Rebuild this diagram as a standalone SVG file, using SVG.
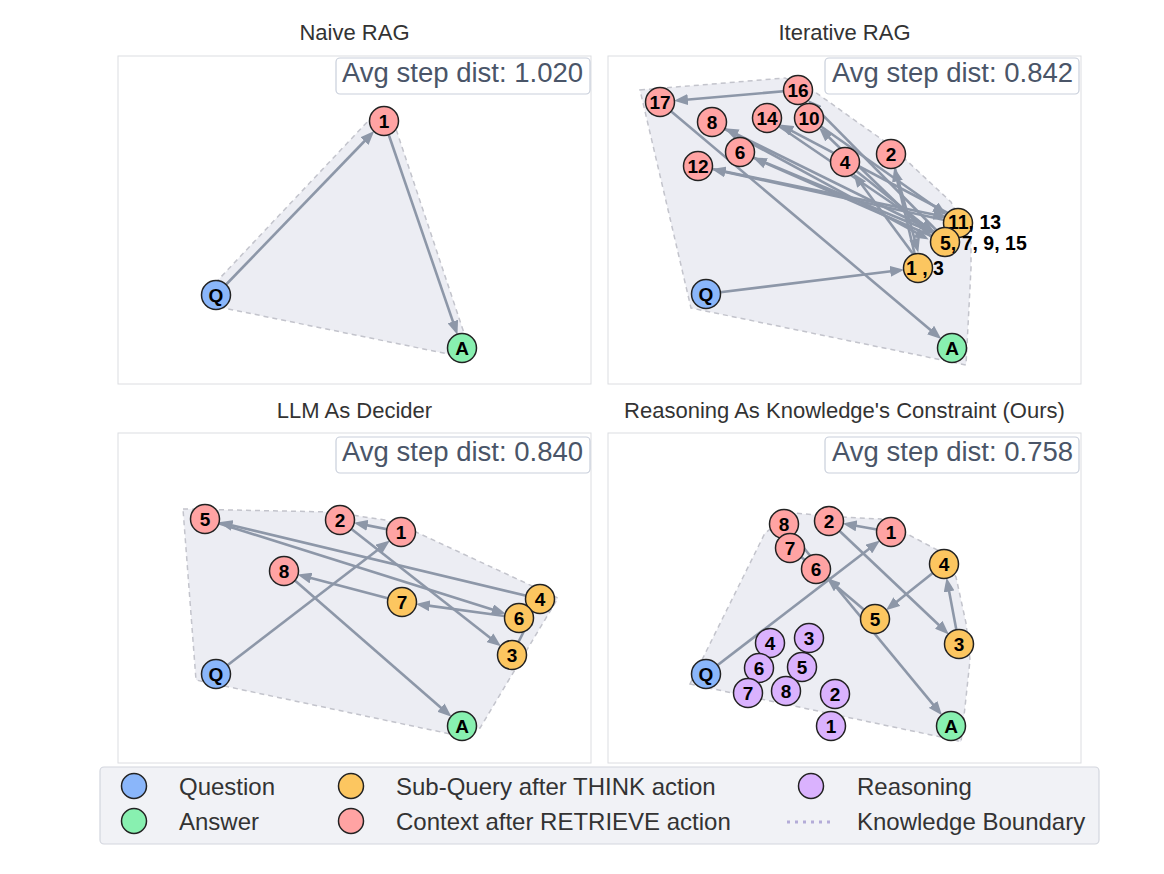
<svg xmlns="http://www.w3.org/2000/svg" width="1164" height="874" viewBox="0 0 1164 874">
<defs>
<marker id="ah" markerUnits="userSpaceOnUse" markerWidth="14" markerHeight="11" refX="5" refY="5.5" orient="auto"><path d="M0,0 L14,5.5 L0,11 z" fill="#8d97a8"/></marker>
</defs>
<style>
.frame{fill:#fff;stroke:#dcdde1;stroke-width:1}
.title{font-family:"Liberation Sans",Arial,sans-serif;font-size:22px;fill:#333;text-anchor:middle}
.badge rect{fill:#fff;stroke:#c9cfdb;stroke-width:1.2}
.badge text{font-family:"Liberation Sans",Arial,sans-serif;font-size:27.5px;fill:#4a5568}
.hull{fill:#ecedf3;stroke:#c3c4cc;stroke-width:1.5;stroke-dasharray:5 4}
.edge{stroke:#8d97a8;stroke-width:2.6;fill:none;marker-end:url(#ah)}
.link{stroke:#8d97a8;stroke-width:2.6;fill:none}
.node circle{stroke:#222;stroke-width:1.5}
.q circle{fill:#8ab6fa}
.a circle{fill:#88f0b0}
.s circle{fill:#fcc660}
.c circle{fill:#ffa3a3}
.r circle{fill:#dab2fe}
.node text{font-family:"Liberation Sans",Arial,sans-serif;font-weight:bold;font-size:19px;fill:#000;text-anchor:middle}
.node text.multi{text-anchor:start;font-size:19.5px}
.lg text{font-family:"Liberation Sans",Arial,sans-serif;font-size:24px;fill:#333}
.lg circle{stroke:#222;stroke-width:1.5}
</style>
<rect x="0" y="0" width="1164" height="874" fill="#fff"/>

<!-- ============ Panel 1: Naive RAG ============ -->
<g id="panel-naive">
<rect class="frame" x="118" y="56" width="473" height="328"/>
<text class="title" x="354.5" y="40">Naive RAG</text>
<polygon class="hull" points="203,296 370,119 392,117 465,336 458,356 214,306"/>
<g class="badge"><rect x="336" y="58" width="254" height="36" rx="4"/><text x="342" y="82">Avg step dist: 1.020</text></g>
</g>
<g id="connectors-naive">
<line class="edge" x1="216" y1="295" x2="368" y2="137.5"/>
<line class="edge" x1="384" y1="121" x2="454.5" y2="326.2"/>
</g>
<g id="naive-Q" class="node q"><circle cx="216" cy="295" r="14.5"/><text x="216" y="302">Q</text></g>
<g id="naive-1" class="node c"><circle cx="384" cy="121" r="14.5"/><text x="384" y="128">1</text></g>
<g id="naive-A" class="node a"><circle cx="462" cy="348" r="14.5"/><text x="462" y="355">A</text></g>

<!-- ============ Panel 2: Iterative RAG ============ -->
<g id="panel-iterative">
<rect class="frame" x="608" y="56" width="473" height="328"/>
<text class="title" x="844.5" y="40">Iterative RAG</text>
<polygon class="hull" points="640,90 785,78 815,92 891,146 951,202 971,242 971,268 966,365 691,308"/>
<g class="badge"><rect x="825" y="58" width="254" height="36" rx="4"/><text x="832" y="82">Avg step dist: 0.842</text></g>
</g>
<g id="connectors-iterative">
<line class="edge" x1="706" y1="294" x2="895.2" y2="270.8"/>
<line class="edge" x1="918" y1="268" x2="896.3" y2="176.4"/>
<line class="edge" x1="891" y1="154" x2="915.9" y2="243.8"/>
<line class="edge" x1="922" y1="266" x2="858.7" y2="180.5"/>
<line class="edge" x1="845" y1="162" x2="927" y2="227.6"/>
<line class="edge" x1="945" y1="242" x2="761.1" y2="161.2"/>
<line class="edge" x1="740" y1="152" x2="927.8" y2="230.2"/>
<line class="edge" x1="949" y1="239" x2="732.6" y2="132.2"/>
<line class="edge" x1="712" y1="122" x2="920.8" y2="235.1"/>
<line class="edge" x1="941" y1="246" x2="825.5" y2="134"/>
<line class="edge" x1="809" y1="118" x2="939.2" y2="209.8"/>
<line class="edge" x1="958" y1="223" x2="720.5" y2="170.9"/>
<line class="edge" x1="698" y1="166" x2="938.5" y2="215.4"/>
<line class="edge" x1="961" y1="220" x2="787.4" y2="128.7"/>
<line class="edge" x1="767" y1="118" x2="927" y2="227"/>
<line class="edge" x1="946" y1="240" x2="814.2" y2="106.4"/>
<line class="edge" x1="798" y1="90" x2="682.9" y2="100"/>
<line class="edge" x1="660" y1="102" x2="934.4" y2="333.2"/>
</g>
<g id="iter-17" class="node c"><circle cx="660" cy="102" r="14.5"/><text x="660" y="109">17</text></g>
<g id="iter-16" class="node c"><circle cx="798" cy="90" r="14.5"/><text x="798" y="97">16</text></g>
<g id="iter-8" class="node c"><circle cx="712" cy="122" r="14.5"/><text x="712" y="129">8</text></g>
<g id="iter-14" class="node c"><circle cx="767" cy="118" r="14.5"/><text x="767" y="125">14</text></g>
<g id="iter-10" class="node c"><circle cx="809" cy="118" r="14.5"/><text x="809" y="125">10</text></g>
<g id="iter-6" class="node c"><circle cx="740" cy="152" r="14.5"/><text x="740" y="159">6</text></g>
<g id="iter-12" class="node c"><circle cx="698" cy="166" r="14.5"/><text x="698" y="173">12</text></g>
<g id="iter-4" class="node c"><circle cx="845" cy="162" r="14.5"/><text x="845" y="169">4</text></g>
<g id="iter-2" class="node c"><circle cx="891" cy="154" r="14.5"/><text x="891" y="161">2</text></g>
<g id="iter-11" class="node s"><circle cx="958" cy="223" r="14.5"/><text class="multi" x="948" y="229">11, 13</text></g>
<g id="iter-5" class="node s"><circle cx="945" cy="242" r="14.5"/><text class="multi" x="940" y="250">5, 7, 9, 15</text></g>
<g id="iter-1" class="node s"><circle cx="918" cy="268" r="14.5"/><text class="multi" x="906" y="275">1 , 3</text></g>
<g id="iter-Q" class="node q"><circle cx="706" cy="294" r="14.5"/><text x="706" y="301">Q</text></g>
<g id="iter-A" class="node a"><circle cx="952" cy="348" r="14.5"/><text x="952" y="355">A</text></g>

<!-- ============ Panel 3: LLM As Decider ============ -->
<g id="panel-decider">
<rect class="frame" x="118" y="433" width="473" height="330"/>
<text class="title" x="354.5" y="418">LLM As Decider</text>
<polygon class="hull" points="183,509 331,512 385,520 416,532 558,598 480,728 455,735 196,680"/>
<g class="badge"><rect x="336" y="437" width="254" height="36" rx="4"/><text x="342" y="461">Avg step dist: 0.840</text></g>
</g>
<g id="connectors-decider">
<line class="edge" x1="216" y1="674" x2="382.8" y2="546"/>
<line class="edge" x1="401" y1="532" x2="362.6" y2="524.4"/>
<line class="edge" x1="340" y1="520" x2="493.9" y2="640.8"/>
<line class="edge" x1="512" y1="655" x2="529.7" y2="619.6"/>
<line class="edge" x1="540" y1="599" x2="227.4" y2="524.3"/>
<line class="edge" x1="205" y1="519" x2="497.1" y2="611.1"/>
<line class="edge" x1="519" y1="618" x2="424.8" y2="605.1"/>
<line class="edge" x1="402" y1="602" x2="306.2" y2="576.8"/>
<line class="edge" x1="284" y1="571" x2="444.7" y2="710.9"/>
</g>
<g id="dec-5" class="node c"><circle cx="205" cy="519" r="14.5"/><text x="205" y="526">5</text></g>
<g id="dec-2" class="node c"><circle cx="340" cy="520" r="14.5"/><text x="340" y="527">2</text></g>
<g id="dec-1" class="node c"><circle cx="401" cy="532" r="14.5"/><text x="401" y="539">1</text></g>
<g id="dec-8" class="node c"><circle cx="284" cy="571" r="14.5"/><text x="284" y="578">8</text></g>
<g id="dec-7" class="node s"><circle cx="402" cy="602" r="14.5"/><text x="402" y="609">7</text></g>
<g id="dec-4" class="node s"><circle cx="540" cy="599" r="14.5"/><text x="540" y="606">4</text></g>
<g id="dec-6" class="node s"><circle cx="519" cy="618" r="14.5"/><text x="519" y="625">6</text></g>
<g id="dec-3" class="node s"><circle cx="512" cy="655" r="14.5"/><text x="512" y="662">3</text></g>
<g id="dec-Q" class="node q"><circle cx="216" cy="674" r="14.5"/><text x="216" y="681">Q</text></g>
<g id="dec-A" class="node a"><circle cx="462" cy="726" r="14.5"/><text x="462" y="733">A</text></g>

<!-- ============ Panel 4: Reasoning As Knowledge's Constraint ============ -->
<g id="panel-ours">
<rect class="frame" x="608" y="433" width="473" height="330"/>
<text class="title" x="844.5" y="418">Reasoning As Knowledge's Constraint (Ours)</text>
<polygon class="hull" points="690,684 765,533 793,513 841,517 881,519 911,536 941,552 956,577 966,623 970,660 965,707 961,742 955,740"/>
<g class="badge"><rect x="825" y="437" width="254" height="36" rx="4"/><text x="832" y="461">Avg step dist: 0.758</text></g>
</g>
<g id="connectors-ours">
<line class="edge" x1="706" y1="674" x2="872.8" y2="546"/>
<line class="edge" x1="891" y1="532" x2="851.6" y2="525"/>
<line class="edge" x1="829" y1="521" x2="942.3" y2="628.2"/>
<line class="edge" x1="959" y1="644" x2="948.2" y2="586.6"/>
<line class="edge" x1="944" y1="564" x2="893" y2="604.7"/>
<line class="edge" x1="875" y1="619" x2="833.6" y2="583.9"/>
<line class="link" x1="816" y1="569" x2="790" y2="548"/>
<line class="link" x1="790" y1="548" x2="784" y2="524"/>
<line class="edge" x1="784" y1="524" x2="936.3" y2="708.3"/>
</g>
<g id="ours-8" class="node c"><circle cx="784" cy="524" r="14.5"/><text x="784" y="531">8</text></g>
<g id="ours-2" class="node c"><circle cx="829" cy="521" r="14.5"/><text x="829" y="528">2</text></g>
<g id="ours-1" class="node c"><circle cx="891" cy="532" r="14.5"/><text x="891" y="539">1</text></g>
<g id="ours-7" class="node c"><circle cx="790" cy="548" r="14.5"/><text x="790" y="555">7</text></g>
<g id="ours-6" class="node c"><circle cx="816" cy="569" r="14.5"/><text x="816" y="576">6</text></g>
<g id="ours-s4" class="node s"><circle cx="944" cy="564" r="14.5"/><text x="944" y="571">4</text></g>
<g id="ours-s5" class="node s"><circle cx="875" cy="619" r="14.5"/><text x="875" y="626">5</text></g>
<g id="ours-s3" class="node s"><circle cx="959" cy="644" r="14.5"/><text x="959" y="651">3</text></g>
<g id="ours-r1" class="node r"><circle cx="831" cy="726" r="14.5"/><text x="831" y="733">1</text></g>
<g id="ours-r2" class="node r"><circle cx="835" cy="694" r="14.5"/><text x="835" y="701">2</text></g>
<g id="ours-r3" class="node r"><circle cx="809" cy="638" r="14.5"/><text x="809" y="645">3</text></g>
<g id="ours-r4" class="node r"><circle cx="770" cy="643" r="14.5"/><text x="770" y="650">4</text></g>
<g id="ours-r5" class="node r"><circle cx="802" cy="667" r="14.5"/><text x="802" y="674">5</text></g>
<g id="ours-r6" class="node r"><circle cx="759" cy="668" r="14.5"/><text x="759" y="675">6</text></g>
<g id="ours-r7" class="node r"><circle cx="748" cy="693" r="14.5"/><text x="748" y="700">7</text></g>
<g id="ours-r8" class="node r"><circle cx="786" cy="691" r="14.5"/><text x="786" y="698">8</text></g>
<g id="ours-Q" class="node q"><circle cx="706" cy="674" r="14.5"/><text x="706" y="681">Q</text></g>
<g id="ours-A" class="node a"><circle cx="951" cy="726" r="14.5"/><text x="951" y="733">A</text></g>

<!-- ============ Legend ============ -->
<g id="legend" class="lg">
<rect x="100" y="767" width="999" height="77" rx="4" fill="#f1f2f6" stroke="#d3d6de" stroke-width="1.2"/>
<circle cx="134" cy="786" r="12.5" fill="#8ab6fa"/>
<text x="179" y="795">Question</text>
<circle cx="134" cy="821" r="12.5" fill="#88f0b0"/>
<text x="179" y="830">Answer</text>
<circle cx="351" cy="786" r="12.5" fill="#fcc660"/>
<text x="396" y="795">Sub-Query after THINK action</text>
<circle cx="351" cy="821" r="12.5" fill="#ffa3a3"/>
<text x="396" y="830">Context after RETRIEVE action</text>
<circle cx="811" cy="786" r="12.5" fill="#dab2fe"/>
<text x="857" y="795">Reasoning</text>
<line x1="787" y1="822" x2="832" y2="822" stroke="#b4acd8" stroke-width="3" stroke-dasharray="3 5"/>
<text x="857" y="830">Knowledge Boundary</text>
</g>
</svg>
